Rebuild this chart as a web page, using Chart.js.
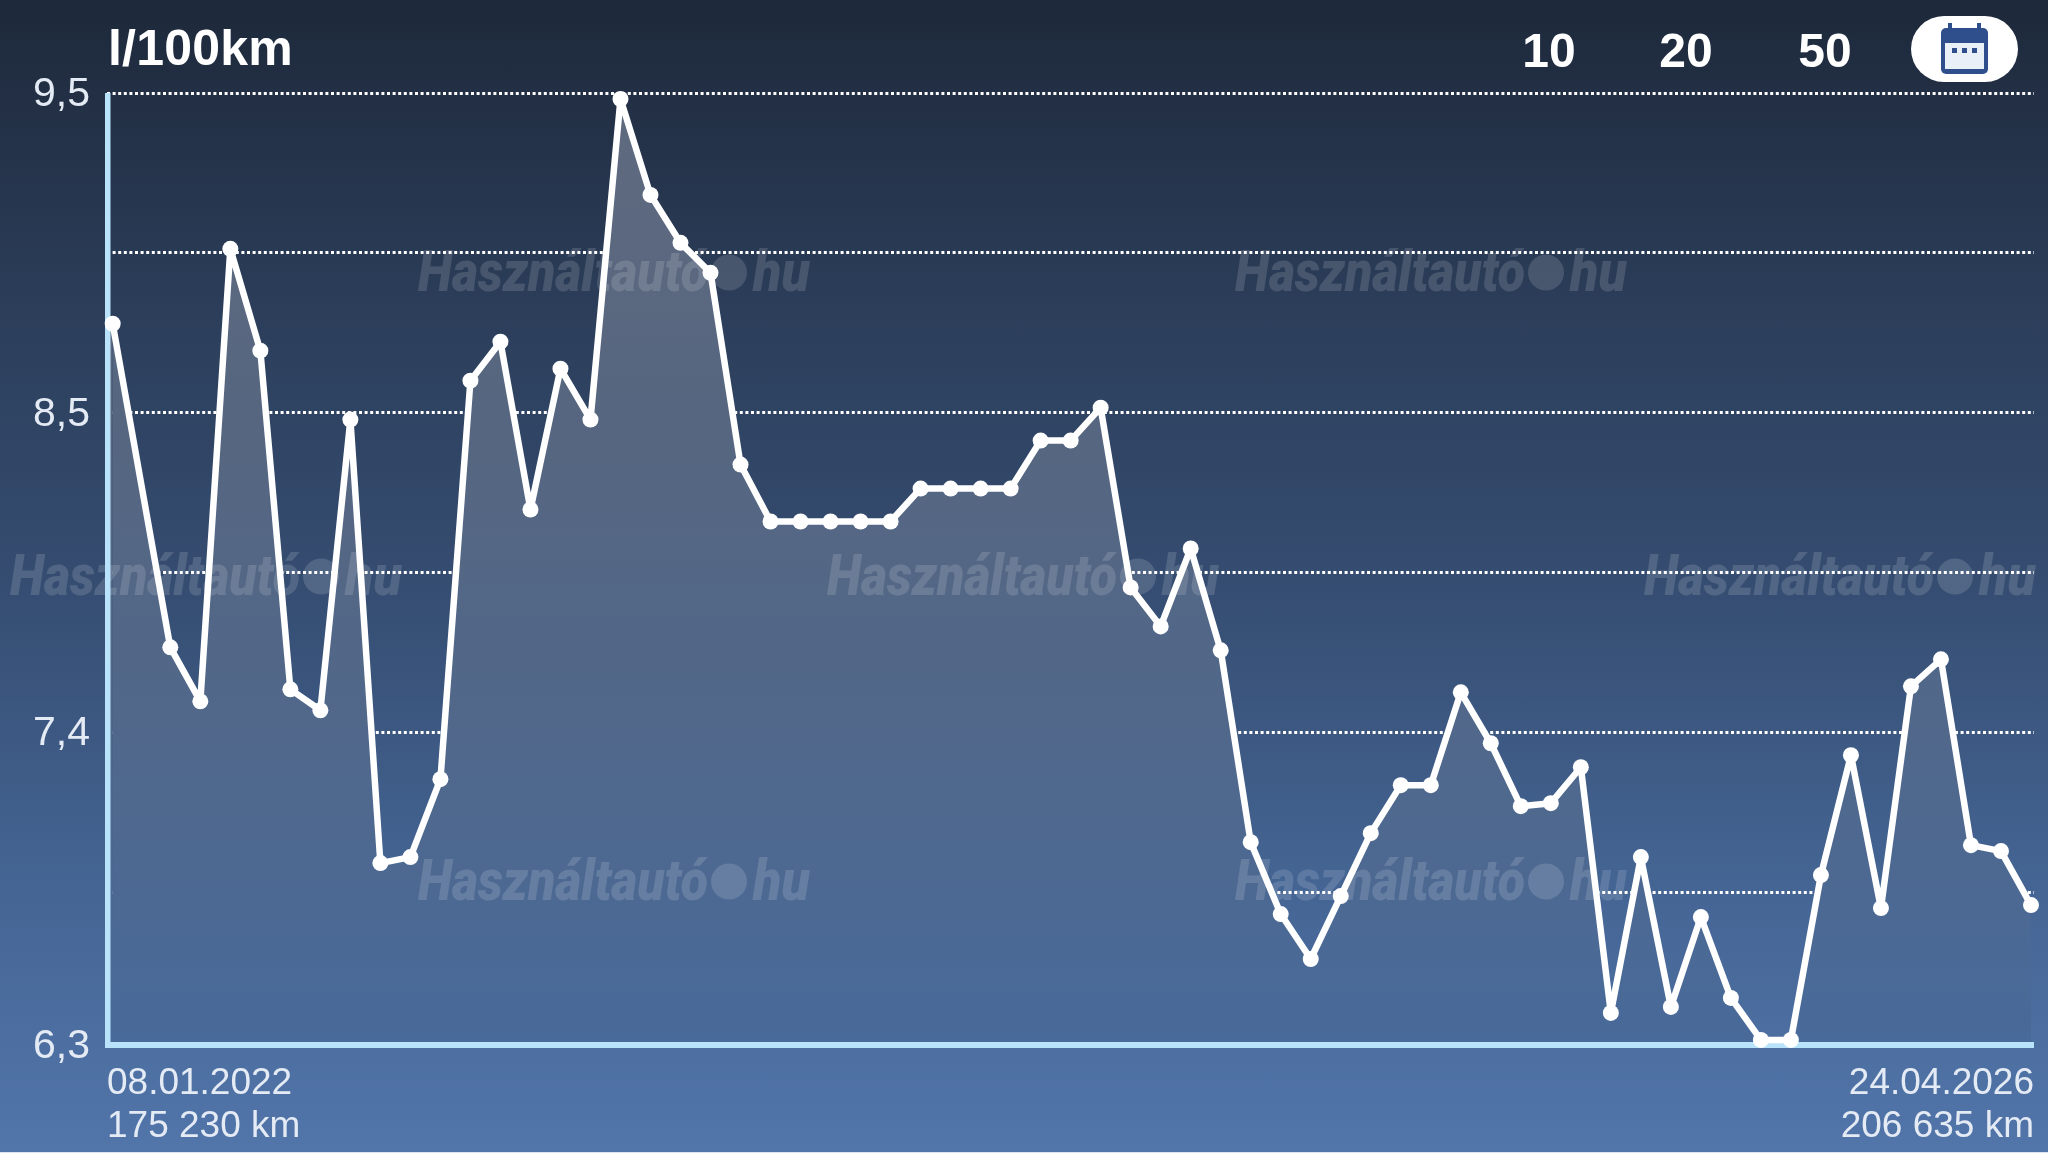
<!DOCTYPE html>
<html>
<head>
<meta charset="utf-8">
<title>l/100km</title>
<script src="https://cdn.jsdelivr.net/npm/chart.js@4"></script>
<style>
  html, body { margin: 0; padding: 0; background: #dbe4f0; }
  #wrap {
    position: relative; width: 2048px; height: 1152px; overflow: hidden;
    background: linear-gradient(180deg, #1d293a 0px, #222f44 93px, #2b3d59 300px, #364e73 600px, #456695 900px, #5275aa 1152px);
    font-family: "Liberation Sans", Arial, sans-serif;
  }
  #wrap canvas { position: absolute; left: 0; top: 0; }
  .head { position: absolute; color: #fff; font-weight: bold; font-size: 48px; line-height: 56px; transform: translateX(-50%); }
  #unit { left: 108px; top: 20px; font-size: 50px; transform: none; letter-spacing: .2px; }
  #pill { position: absolute; left: 1911px; top: 16px; width: 107px; height: 66px; border-radius: 33px; background: #fff; }
  #pill svg { position: absolute; left: 30px; top: 6px; }
</style>
</head>
<body>
<div id="wrap">
  <canvas id="chart"></canvas>
  <div class="head" id="unit">l/100km</div>
  <div class="head" style="left:1549px;top:23px">10</div>
  <div class="head" style="left:1686px;top:23px">20</div>
  <div class="head" style="left:1825px;top:23px">50</div>
  <div id="pill">
    <svg width="47" height="52" viewBox="0 0 47 52">
      <rect x="7" y="1" width="4" height="10" fill="#2f4f8c"/>
      <rect x="36" y="1" width="4" height="10" fill="#2f4f8c"/>
      <rect x="0" y="6" width="47" height="46" rx="5" fill="#2f4f8c"/>
      <rect x="4" y="21" width="39" height="26" fill="#eaf0f8"/>
      <rect x="11" y="26" width="5" height="5" fill="#2f4f8c"/>
      <rect x="21" y="26" width="5" height="5" fill="#2f4f8c"/>
      <rect x="31" y="26" width="5" height="5" fill="#2f4f8c"/>
    </svg>
  </div>
</div>
<script>
// entry number along the x axis, the first entry sits a bit closer to the second gap
const entries = [
  0.08, 2, 3, 4, 5, 6, 7, 8, 9, 10, 11, 12, 13, 14, 15, 16, 17, 18, 19, 20, 21,
  22, 23, 24, 25, 26, 27, 28, 29, 30, 31, 32, 33, 34, 35, 36, 37, 38, 39, 40, 41,
  42, 43, 44, 45, 46, 47, 48, 49, 50, 51, 52, 53, 54, 55, 56, 57, 58, 59, 60, 61,
  62, 63, 64,
];
const consumption = [
  8.73, 7.65, 7.47, 8.98, 8.64, 7.51, 7.44, 8.41, 6.93, 6.95, 7.21, 8.54,
  8.67, 8.11, 8.58, 8.41, 9.48, 9.16, 9.00, 8.90, 8.26, 8.07, 8.07, 8.07, 8.07,
  8.07, 8.18, 8.18, 8.18, 8.18, 8.34, 8.34, 8.45, 7.85, 7.72, 7.98, 7.64, 7.00,
  6.76, 6.61, 6.82, 7.03, 7.19, 7.19, 7.50, 7.33, 7.12, 7.13, 7.25, 6.43, 6.95,
  6.45, 6.75, 6.48, 6.34, 6.34, 6.89, 7.29, 6.78, 7.52, 7.61, 6.99, 6.97, 6.79,
];
const yTickValues = [9.5, 8.967, 8.433, 7.9, 7.367, 6.833, 6.323];
const yTickLabels = ["9,5", "", "8,5", "", "7,4", "", "6,3"];
const xTickLabels = [
  ["08.01.2022", "175 230 km"],
  ["24.04.2026", "206 635 km"],
];
const watermarks = [[418, 291], [1235, 291], [10, 595], [827, 595], [1644, 595], [418, 900], [1235, 900]];

const xMin = -0.11;
const xMax = 64.1;

// fill is opaque in the original: gridlines disappear behind it
function fillGradient(context) {
  const { ctx, chartArea } = context.chart;
  if (!chartArea) return "transparent";
  const g = ctx.createLinearGradient(0, chartArea.top, 0, chartArea.bottom);
  g.addColorStop(0, "#5f6a7e");
  g.addColorStop(0.35, "#566680");
  g.addColorStop(0.7, "#50688c");
  g.addColorStop(1, "#486a9a");
  return g;
}

const overlayPlugin = {
  id: "overlay",
  // runs after the filler, so this sits on the area but under the line and dots
  beforeDatasetDraw(chart) {
    const ctx = chart.ctx;
    const { left, right, top, bottom } = chart.chartArea;
    const first = chart.getDatasetMeta(0).data[0];
    ctx.save();
    // the area reaches the axis, not only the first dot
    ctx.fillStyle = fillGradient({ chart });
    ctx.fillRect(left, first.y, first.x - left, bottom - first.y);
    ctx.fillStyle = "rgba(255,255,255,0.14)";
    ctx.textBaseline = "alphabetic";
    ctx.font = "italic 900 58px Roboto, 'Liberation Sans'";
    watermarks.forEach(([x, y]) => {
      ctx.fillText("Használtautó", x, y, 290);
      ctx.beginPath();
      ctx.arc(x + 311, y - 18.5, 18, 0, Math.PI * 2);
      ctx.fill();
      ctx.fillText("hu", x + 335, y, 57);
    });
    // axis lines, here because the fill would cover their inner half otherwise
    ctx.fillStyle = "#b9e3fb";
    ctx.fillRect(left - 2, top, 5.5, bottom - top + 3);
    ctx.fillRect(left - 2, bottom - 3, right - left + 2, 6);
    ctx.restore();
  },
};

new Chart(document.getElementById("chart"), {
  type: "line",
  data: {
    datasets: [
      {
        data: consumption.map((v, i) => ({ x: entries[i], y: v })),
        clip: false,
        borderColor: "#fff",
        borderWidth: 6.5,
        borderJoinStyle: "round",
        tension: 0,
        pointRadius: 8,
        pointBackgroundColor: "#fff",
        pointBorderWidth: 0,
        fill: "start",
        backgroundColor: fillGradient,
      },
    ],
  },
  options: {
    animation: false,
    responsive: true,
    maintainAspectRatio: false,
    devicePixelRatio: 1,
    layout: { padding: { top: 93, right: 14 } },
    plugins: { legend: { display: false }, tooltip: { enabled: false } },
    scales: {
      x: {
        type: "linear",
        min: xMin,
        max: xMax,
        afterBuildTicks: (s) => { s.ticks = [{ value: xMin }, { value: xMax }]; },
        afterFit: (s) => { s.height = 107; },
        grid: { display: false },
        border: { display: false },
        ticks: {
          align: "inner",
          autoSkip: false,
          maxRotation: 0,
          padding: 9,
          color: "#e4ebf4",
          font: { family: "'Liberation Sans'", size: 37, lineHeight: 1.16 },
          callback: (v, i) => xTickLabels[i],
        },
      },
      y: {
        min: 6.323,
        max: 9.5,
        afterBuildTicks: (s) => { s.ticks = yTickValues.map((value) => ({ value })); },
        afterFit: (s) => { s.width = 107; },
        grid: {
          color: (c) => (c.index === yTickValues.length - 1 ? "transparent" : "#fff"),
          lineWidth: 3,
          drawTicks: false,
        },
        border: { display: false, dash: [3, 2.6] },
        ticks: {
          autoSkip: false,
          padding: 17,
          labelOffset: 2,
          color: "#e4ebf4",
          font: { family: "'Liberation Sans'", size: 41 },
          callback: (v, i) => yTickLabels[i],
        },
      },
    },
  },
  plugins: [overlayPlugin],
});
</script>
</body>
</html>
